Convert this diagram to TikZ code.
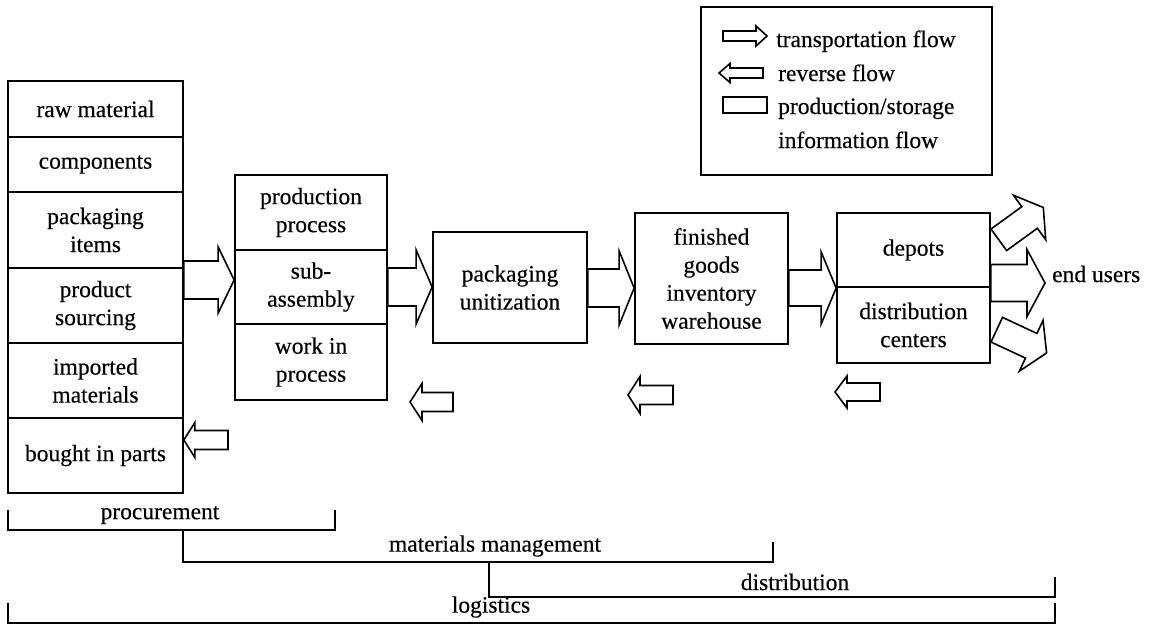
\documentclass[tikz,border=0pt]{standalone}
\usepackage{fontspec}
\setmainfont{Liberation Serif}[UprightFeatures={FakeBold=0.35}]
\usetikzlibrary{calc}
\newcommand\mainfs{\fontsize{23.5}{28}\selectfont}
\tikzset{
  box/.style={draw, line width=1.7pt, inner sep=0pt, align=center, font=\mainfs},
  lbl/.style={inner sep=0pt, font=\mainfs},
  blockarrow/.style={draw, line width=1.6pt, line join=miter},
  bracket/.style={draw, line width=1.6pt},
}
% forward block arrow: tail point, tip point, shaft half, head half, head length
\newcommand\fwdarrow[5]{%
  \draw[blockarrow] let \p1=#1, \p2=#2 in
    (\x1,\y1+#3) -- (\x2-#5,\y1+#3) -- (\x2-#5,\y1+#4) -- (\x2,\y1) --
    (\x2-#5,\y1-#4) -- (\x2-#5,\y1-#3) -- (\x1,\y1-#3) -- cycle;}
% reverse block arrow: tip point (left), tail point (right), shaft half, head half, head length
\newcommand\revarrow[5]{%
  \draw[blockarrow] let \p1=#1, \p2=#2 in
    (\x2,\y1+#3) -- (\x1+#5,\y1+#3) -- (\x1+#5,\y1+#4) -- (\x1,\y1) --
    (\x1+#5,\y1-#4) -- (\x1+#5,\y1-#3) -- (\x2,\y1-#3) -- cycle;}
\begin{document}
\begin{tikzpicture}[x=1pt,y=-1pt]
\useasboundingbox (0,0) rectangle (1155,625);

% left column
\node[box, minimum width=175pt, minimum height=56pt] (lc1) at (95.5,109) {raw material};
\node[box, minimum width=175pt, minimum height=55pt] (lc2) at (95.5,164.5) {components};
\node[box, minimum width=175pt, minimum height=76pt] (lc3) at (95.5,230) {packaging\\items};
\node[box, minimum width=175pt, minimum height=75pt] (lc4) at (95.5,305.5) {product\\sourcing};
\node[box, minimum width=175pt, minimum height=75pt] (lc5) at (95.5,380.5) {imported\\materials};
\node[box, minimum width=175pt, minimum height=75pt] (lc6) at (95.5,455.5) {bought in parts};

% production column
\node[box, minimum width=152pt, minimum height=75pt] (pp1) at (311,212.5) {production\\process};
\node[box, minimum width=152pt, minimum height=74pt] (pp2) at (311,287) {sub-\\assembly};
\node[box, minimum width=152pt, minimum height=76pt] (pp3) at (311,362) {work in\\process};

% packaging
\node[box, minimum width=154pt, minimum height=111pt] (pk) at (510,287.5) {packaging\\unitization};

% finished goods
\node[box, minimum width=153pt, minimum height=131pt] (fg) at (711.5,278.5) {finished\\goods\\inventory\\warehouse};

% depots / distribution centers
\node[box, minimum width=153pt, minimum height=74pt] (dp1) at (913.5,250) {depots};
\node[box, minimum width=153pt, minimum height=76pt] (dp2) at (913.5,325) {distribution\\centers};

% end users
\node[lbl, anchor=west] (eu) at (1052,274) {end users};

% transportation flow arrows
\fwdarrow{(lc4.east |- 0,280)}{(pp2.west |- 0,280)}{19pt}{33pt}{16pt}
\fwdarrow{(pp2.east |- 0,287)}{(pk.west |- 0,287)}{19pt}{37pt}{16pt}
\fwdarrow{(pk.east |- 0,288)}{(fg.west |- 0,288)}{19pt}{37pt}{15pt}
\fwdarrow{(fg.east |- 0,288)}{(dp2.west |- 0,288)}{18pt}{36pt}{15pt}
\fwdarrow{(dp1.east |- 0,283)}{(1045,283)}{18.5pt}{33.5pt}{18pt}

% diagonal arrows
\begin{scope}[shift={(998.8,239.8)}, rotate=36]
  \draw[blockarrow] (0,-13.3) -- (38,-13.3) -- (38,-27.5) -- (55,0) -- (38,27.5) -- (38,13.3) -- (0,13.3) -- cycle;
\end{scope}
\begin{scope}[shift={(996.75,329.7)}, rotate=-25]
  \draw[blockarrow] (0,-13.6) -- (38,-13.6) -- (38,-28) -- (55,0) -- (38,28) -- (38,13.6) -- (0,13.6) -- cycle;
\end{scope}

% reverse flow arrows
\revarrow{(lc6.east |- 0,440)}{(228,440)}{9.5pt}{17.5pt}{11pt}
\revarrow{(410,402)}{(453,402)}{9.5pt}{18.5pt}{12pt}
\revarrow{(628,395)}{(673,395)}{9.5pt}{18.5pt}{12pt}
\revarrow{(835,392)}{(880,392)}{9pt}{16pt}{12pt}

% legend
\node[draw, line width=1.6pt, minimum width=291pt, minimum height=168pt, inner sep=0pt] (leg) at (846.5,91) {};
\fwdarrow{(723,36)}{(767,36)}{5pt}{10pt}{11pt}
\revarrow{(719,73)}{(763,73)}{5pt}{9.5pt}{11pt}
\draw[line width=1.6pt] (723,97) rectangle (767,113);
\node[lbl, anchor=base west] (lt1) at (776,47) {transportation flow};
\node[lbl, anchor=base west] (lt2) at (778,81) {reverse flow};
\node[lbl, anchor=base west] (lt3) at (778,114) {production/storage};
\node[lbl, anchor=base west] (lt4) at (778,148) {information flow};

% brackets
\draw[bracket] (8,510) -- (8,530) -- (335,530) -- (335,510);
\node[lbl] (tproc) at (160,515) {procurement};
\draw[bracket] (183,530) -- (183,562) -- (773,562) -- (773,542);
\node[lbl] (tmm) at (495,546) {materials management};
\draw[bracket] (489,562) -- (489,597) -- (1055,597) -- (1055,577);
\node[lbl] (tdist) at (795,582) {distribution};
\draw[bracket] (8,603) -- (8,623) -- (1055,623) -- (1055,603);
\node[lbl] (tlog) at (491,607) {logistics};
\end{tikzpicture}
\end{document}
